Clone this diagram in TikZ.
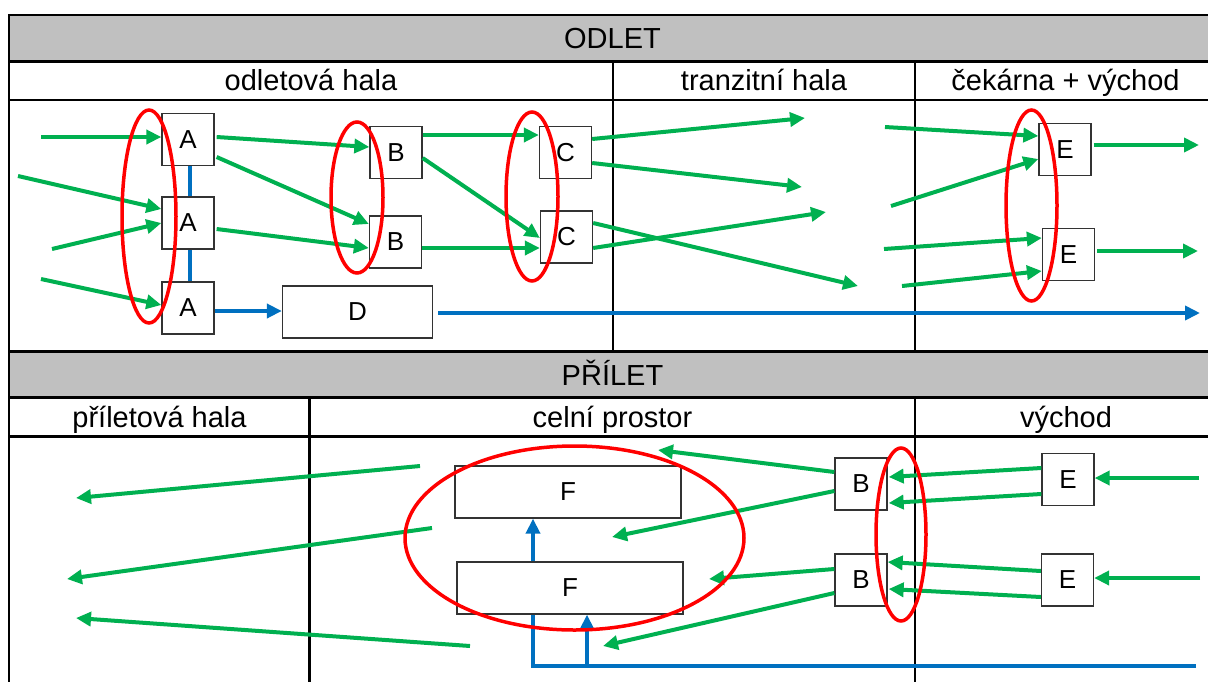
\documentclass[tikz,border=0pt]{standalone}
\usepackage{fontspec}
\setmainfont{Liberation Sans}
\usetikzlibrary{arrows.meta}
\definecolor{gband}{HTML}{C0C0C0}
\definecolor{ggreen}{HTML}{00B050}
\definecolor{gblue}{HTML}{0070C0}
\definecolor{gred}{HTML}{FF0000}
\newcommand{\boxfont}{\fontsize{26}{30}\selectfont}
\newcommand{\headfont}{\fontsize{29}{34}\selectfont}
\begin{document}
\begin{tikzpicture}[x=1pt,y=-1pt,
  stbox/.style={draw=black!80,line width=1.3pt,fill=white,minimum width=52pt,minimum height=52pt,inner sep=0pt,font=\boxfont},
  gar/.style={draw=ggreen,line width=4pt,-{Triangle[length=15pt,width=14pt]}},
  bar/.style={draw=gblue,line width=4pt,-{Triangle[length=15pt,width=14pt]}},
  bline/.style={draw=gblue,line width=4pt},
  grp/.style={draw=gred,line width=3.5pt},
  tline/.style={draw=black,line width=2.5pt},
  head/.style={font=\headfont,anchor=base,inner sep=0pt}
]
\useasboundingbox (0,0) rectangle (1208,681);
\clip (0,0) rectangle (1208,681);
% table
\fill[gband] (9,15) rectangle (1220,61.7);
\fill[gband] (9,351.7) rectangle (1220,397.7);
\draw[tline] (1220,15) -- (9,15) -- (9,700);
\foreach \yy in {61.7,100,351.7,397.7,436.7} {\draw[tline] (9,\yy) -- (1220,\yy);}
\draw[tline] (613,61.7) -- (613,351.7);
\draw[tline] (915,61.7) -- (915,351.7);
\draw[tline] (309.6,397.7) -- (309.6,700);
\draw[tline] (915,397.7) -- (915,700);
% headings
\node[head] (hOdlet) at (612.5,48) {ODLET};
\node[head] (hOdHala) at (311,90) {odletová hala};
\node[head] (hTranz) at (764,90) {tranzitní hala};
\node[head] (hCek) at (1065.5,90) {čekárna + východ};
\node[head] (hPrilet) at (612.5,385) {PŘÍLET};
\node[head] (hPrHala) at (159.5,427) {příletová hala};
\node[head] (hCelni) at (612.5,427) {celní prostor};
\node[head] (hVych) at (1066,427) {východ};
% ODLET boxes
\node[stbox] (A1) at (188,139.5) {A};
\node[stbox] (A2) at (188,223) {A};
\node[stbox] (A3) at (188,308) {A};
\node[stbox] (B1) at (396,152.5) {B};
\node[stbox] (B2) at (395.5,242) {B};
\node[stbox] (C1) at (565.5,152.5) {C};
\node[stbox] (C2) at (566.5,237) {C};
\node[stbox,minimum width=150pt] (D) at (357.5,312) {D};
\node[stbox] (E1) at (1065,149.5) {E};
\node[stbox] (E2) at (1068.5,254.5) {E};
% PRILET boxes
\node[stbox,minimum width=226pt] (F1) at (568,492) {F};
\node[stbox,minimum width=226pt] (F2) at (570,588) {F};
\node[stbox] (B3) at (861,484) {B};
\node[stbox] (B4) at (861,580) {B};
\node[stbox] (E3) at (1068,479.5) {E};
\node[stbox] (E4) at (1067.5,580) {E};
% free ends
\coordinate (i1) at (41,137);
\coordinate (i2) at (18,176);
\coordinate (i3) at (52,249);
\coordinate (i4) at (41,279);
\coordinate (t1) at (805,118);
\coordinate (t2) at (802,187);
\coordinate (t3) at (858,286);
\coordinate (t4) at (826,212);
\coordinate (s1) at (885,127);
\coordinate (s2) at (891,206);
\coordinate (s3) at (884,249);
\coordinate (s4) at (902,286);
\coordinate (o1) at (1199,145);
\coordinate (o2) at (1198,251);
\coordinate (dOut) at (1200,313);
\coordinate (r1) at (1199,478);
\coordinate (r2) at (1200,578);
\coordinate (p1) at (658,450);
\coordinate (p2) at (612,537);
\coordinate (p3) at (709,579);
\coordinate (p4) at (603,646);
\coordinate (q1s) at (420,466);
\coordinate (q1e) at (76,498);
\coordinate (q2s) at (432,528);
\coordinate (q2e) at (67,579);
\coordinate (q3s) at (470,646);
\coordinate (q3e) at (76,618);
\coordinate (bEnd) at (1196,666);
\coordinate (bC1) at (533,666);
\coordinate (bC2) at (587,666);
% ODLET blue
\draw[bline] (A1.south -| 190,0) -- (A2.north -| 190,0);
\draw[bline] (A2.south -| 190,0) -- (A3.north -| 190,0);
\draw[bar] (A3.east |- 0,311) -- (D.west |- 0,311);
\draw[bar] ([xshift=5pt]D.east |- 0,313) -- (dOut);
% ODLET green
\draw[gar] (i1) -- (A1.west |- 0,137);
\draw[gar] (i2) -- (A2.west |- 0,209);
\draw[gar] (i3) -- (A2.west |- 0,223);
\draw[gar] (i4) -- (A3.west |- 0,305);
\draw[gar] ([xshift=2pt]A1.east |- 0,137) -- (B1.west |- 0,147);
\draw[gar] ([xshift=2pt]A1.east |- 0,157) -- (B2.west |- 0,224);
\draw[gar] ([xshift=2pt]A2.east |- 0,229) -- (B2.west |- 0,248);
\draw[gar] (B1.east |- 0,135) -- (C1.west |- 0,135);
\draw[gar] (B1.east |- 0,158) -- (C2.west |- 0,238);
\draw[gar] (B2.east |- 0,248) -- (C2.west |- 0,248);
\draw[gar] (C1.east |- 0,139) -- (t1);
\draw[gar] (C1.east |- 0,163) -- (t2);
\draw[gar] (C2.east |- 0,223) -- (t3);
\draw[gar] (C2.east |- 0,248) -- (t4);
\draw[gar] (s1) -- (E1.west |- 0,136);
\draw[gar] (s2) -- (E1.west |- 0,159);
\draw[gar] (s3) -- (E2.west |- 0,238);
\draw[gar] (s4) -- (E2.west |- 0,271);
\draw[gar] ([xshift=2pt]E1.east |- 0,145) -- (o1);
\draw[gar] ([xshift=2pt]E2.east |- 0,251) -- (o2);
% PRILET blue
\draw[bline] (bEnd) -- (bC1) -- (F2.south -| bC1);
\draw[bar] (F2.north -| bC1) -- (F1.south -| bC1);
\draw[bar] (bC2) -- (F2.south -| bC2);
% PRILET green
\draw[gar] (r1) -- (E3.east |- 0,478);
\draw[gar] (r2) -- (E4.east |- 0,578);
\draw[gar] (E3.west |- 0,468) -- ([xshift=1pt]B3.east |- 0,477);
\draw[gar] (E3.west |- 0,494) -- ([xshift=1pt]B3.east |- 0,503);
\draw[gar] (E4.west |- 0,571) -- (B4.east |- 0,562);
\draw[gar] (E4.west |- 0,597) -- ([xshift=1pt]B4.east |- 0,589);
\draw[gar] (B3.west |- 0,472) -- (p1);
\draw[gar] (B3.west |- 0,491) -- (p2);
\draw[gar] (B4.west |- 0,569) -- (p3);
\draw[gar] (B4.west |- 0,593) -- (p4);
\draw[gar] (q1s) -- (q1e);
\draw[gar] (q2s) -- (q2e);
\draw[gar] (q3s) -- (q3e);
% red groupings
\draw[grp] (149,216.5) ellipse [x radius=27, y radius=106.5];
\draw[grp] (357,197.5) ellipse [x radius=26, y radius=75.5];
\draw[grp] (532,196.5) ellipse [x radius=26, y radius=84.5];
\draw[grp] (1031.5,205.5) ellipse [x radius=25.5, y radius=95.5];
\draw[grp] (574.5,538) ellipse [x radius=169.5, y radius=92];
\draw[grp] (901,534.5) ellipse [x radius=25, y radius=86.5];
\end{tikzpicture}
\end{document}
